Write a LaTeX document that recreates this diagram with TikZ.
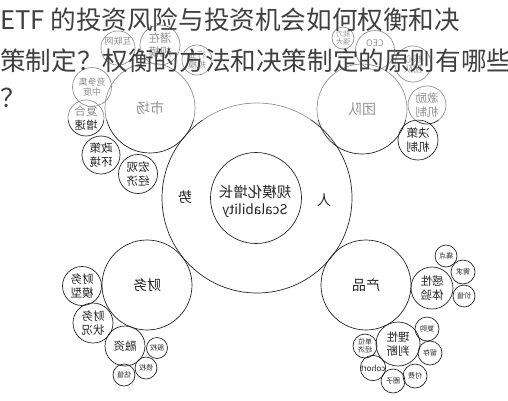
\documentclass[tikz,border=0pt]{standalone}
\usepackage{fontspec}
\newfontfamily\cjk{Noto Sans CJK SC}
\begin{document}
\begin{tikzpicture}[x=1pt,y=-1pt,
  ring/.style={circle,draw=black!85,line width=0.7pt,inner sep=0pt,align=center,text=black!85,xscale=-1},
  fbig/.style={font=\cjk\fontsize{14}{16}\selectfont},
  fmid/.style={font=\cjk\fontsize{11.5}{13.5}\selectfont},
  fsml/.style={font=\cjk\fontsize{9}{10.5}\selectfont},
  ftny/.style={font=\cjk\fontsize{7}{8}\selectfont},
  lab/.style={inner sep=0pt,text=black!85,xscale=-1},
  ttl/.style={anchor=base west,inner sep=0pt,text=black!75,font=\cjk\fontsize{25.6}{28}\selectfont}]
\useasboundingbox (0,0) rectangle (508,400);
\fill[white] (0,0) rectangle (508,400);
% center
\node[ring,minimum size=190pt] (big) at (257,198) {};
\node[ring,minimum size=91pt,font=\cjk\fontsize{14.5}{17.5}\selectfont] (core) at (256,198) {};
\node[lab,font=\cjk\fontsize{14.5}{17}\selectfont,align=center] (coretext) at (255,201) {规模化增长\\{\fontsize{13.5}{16}\selectfont Scalability}};
\node[lab,fbig] (shi) at (185,197) {势};
\node[lab,fbig] (ren) at (324,200) {人};
% four main circles
\node[ring,minimum size=90pt,fbig] (mkt) at (150,108) {市场};
\node[ring,minimum size=90pt,fbig] (team) at (362,109) {团队};
\node[ring,minimum size=90pt,fbig] (fin) at (147,285) {财务};
\node[ring,minimum size=90pt,fbig] (prod) at (366,285) {产品};
% market satellites
\node[ring,minimum size=32pt,fsml] (m1) at (118,48) {互联网\\\strut};
\node[ring,minimum size=40pt,fmid] (m2) at (160,45) {潜在\\规模};
\node[ring,minimum size=30pt,fsml] (m3) at (197,60) {行业\\规模};
\node[ring,minimum size=39pt,fsml] (m4) at (92,87) {竞争集\\中度};
\node[ring,minimum size=36pt,fmid] (m5) at (86,118) {复合\\增速};
\node[ring,minimum size=38pt,fmid] (m6) at (101,155) {政策\\环境};
\node[ring,minimum size=39pt,fmid] (m7) at (138,174) {宏观\\经济};
% team satellites
\node[ring,minimum size=22pt,ftny] (t1) at (343,38) {能力\\强大};
\node[ring,minimum size=39pt,fsml] (t2) at (375,50) {CEO\\\strut};
\node[ring,minimum size=36pt,fsml] (t3) at (413,64) {核心\\团队};
\node[ring,minimum size=38pt,fmid] (t4) at (427,105) {激励\\机制};
\node[ring,minimum size=40pt,fmid] (t5) at (418,140) {决策\\机制};
% finance satellites
\node[ring,minimum size=39pt,fmid] (f1) at (82,286) {财务\\模型};
\node[ring,minimum size=40pt,fmid] (f2) at (93,323) {财务\\状况};
\node[ring,minimum size=40pt,fmid] (f3) at (125,346) {融资};
\node[ring,minimum size=21pt,ftny] (f4) at (157,348) {股权};
\node[ring,minimum size=22pt,ftny] (f5) at (146,368) {债权};
\node[ring,minimum size=22pt,ftny] (f6) at (124,375) {估值};
% product satellites
\node[ring,minimum size=42pt,fmid] (p1) at (432,288) {感性\\体验};
\node[ring,minimum size=22pt,ftny] (p2) at (446,256) {痛点};
\node[ring,minimum size=24pt,ftny] (p3) at (463,272) {需求};
\node[ring,minimum size=22pt,ftny] (p4) at (464,296) {价值};
\node[ring,minimum size=44pt,fmid] (p5) at (398,344) {理性\\判断};
\node[ring,minimum size=24pt,ftny] (p6) at (427,329) {复购};
\node[ring,minimum size=24pt,ftny] (p7) at (430,353) {留存};
\node[ring,minimum size=24pt,ftny] (p8) at (415,376) {付费};
\node[ring,minimum size=24pt,ftny] (p9) at (393,381) {圈子};
\node[ring,minimum size=24pt,font=\cjk\fontsize{8}{9}\selectfont] (p10) at (373,368) {cohort};
\node[ring,minimum size=24pt,ftny] (p11) at (365,346) {单位\\经济};
% faded overlay and title
\fill[white,opacity=0.5] (0,0) rectangle (508,120);
\node[ttl] (l1) at (0,29) {ETF 的投资风险与投资机会如何权衡和决};
\node[ttl] (l2) at (0,70) {策制定？权衡的方法和决策制定的原则有哪些};
\node[ttl] (l3) at (0,107) {？};
\end{tikzpicture}
\end{document}
